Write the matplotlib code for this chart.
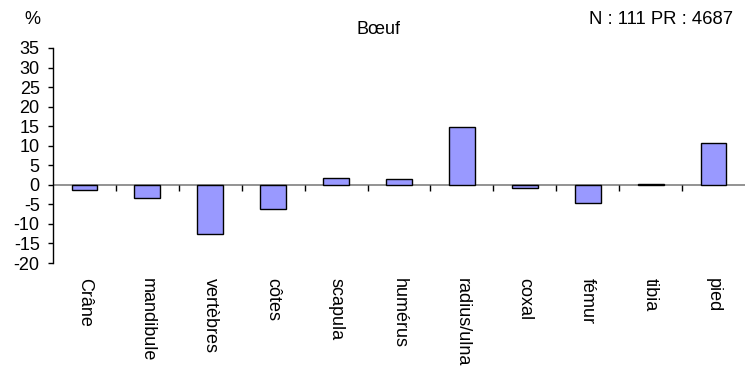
import matplotlib
matplotlib.use("Agg")
import matplotlib.pyplot as plt

categories = ["Crâne", "mandibule", "vertèbres", "côtes", "scapula", "humérus",
              "radius/ulna", "coxal", "fémur", "tibia", "pied"]
values = [-1.2, -3.4, -12.6, -6.2, 1.7, 1.4, 14.7, -0.8, -4.6, 0.3, 10.8]
yticks = list(range(-20, 40, 5))

plt.rcParams['font.family'] = ['Liberation Sans', 'DejaVu Sans']

fig = plt.figure(figsize=(7.45, 3.67), dpi=100)
ax = fig.add_axes([53 / 745, 1 - 263 / 367, 692 / 745, 215 / 367])

x = list(range(len(categories)))
ax.bar(x, values, width=0.41, color="#9999FF", edgecolor="black", linewidth=1, zorder=3)

# zero line with tick marks between categories
ax.axhline(0, color="#808080", linewidth=1.2, zorder=2)
bounds = [i + 0.5 for i in range(len(categories) - 1)]
ax.vlines(bounds, -1.5, 0, color="black", linewidth=1, zorder=2)

ax.set_xlim(-0.5, len(categories) - 0.5)
ax.set_ylim(-20, 35)
ax.set_yticks(yticks)
ax.set_yticklabels([str(t) for t in yticks], fontsize=13)
ax.set_xticks(x)
ax.set_xticklabels(categories, rotation=270, fontsize=13)
ax.tick_params(axis="x", length=0, pad=11)
ax.tick_params(axis="y", length=3.6, width=1, direction="out", pad=6)

for s in ["top", "right", "bottom"]:
    ax.spines[s].set_visible(False)
ax.spines["left"].set_linewidth(1)

fig.text(32 / 745, 1 - 19 / 367, "%", fontsize=13, ha="center", va="center")
fig.text(379 / 745, 1 - 29 / 367, "Bœuf", fontsize=13, ha="center", va="center")
fig.text(733 / 745, 1 - 19 / 367, "N : 111 PR : 4687", fontsize=13.3, ha="right", va="center")

fig.savefig("out.png", dpi=100)
